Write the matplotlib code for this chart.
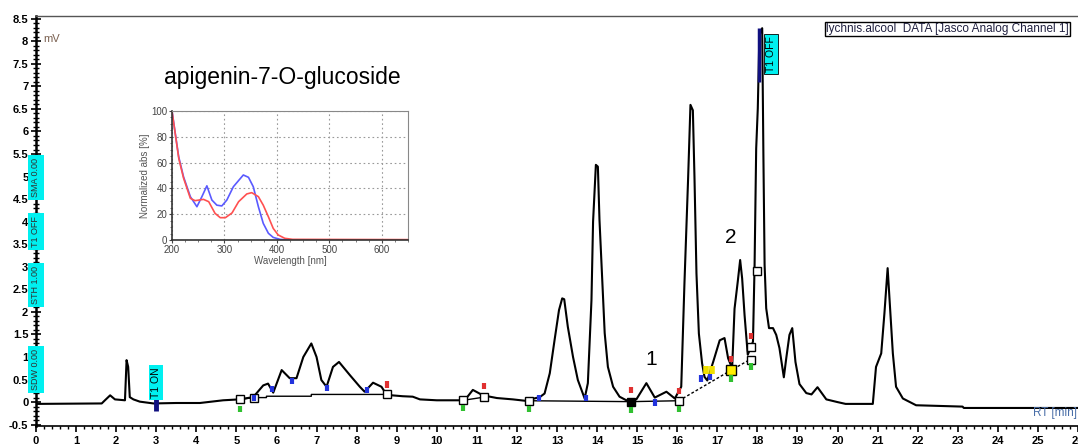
import matplotlib
matplotlib.use("Agg")
import matplotlib.pyplot as plt
import numpy as np
from matplotlib.ticker import MultipleLocator

plt.rcParams['font.family'] = ['Liberation Sans', 'DejaVu Sans']

# ---------------- chromatogram (RT in min, signal in mV) ----------------
rt_min = [0.0, 1.64, 1.72, 1.85, 1.97, 2.22, 2.26, 2.30, 2.34, 2.43, 2.59, 2.93, 3.5, 4.09,
          4.67, 5.07, 5.42, 5.67, 5.79, 5.92, 6.13, 6.33, 6.5, 6.67, 6.87, 7.0, 7.12, 7.25,
          7.41, 7.56, 7.83, 8.08, 8.2, 8.41, 8.62, 8.75, 9.15, 9.4, 9.58, 10.0, 10.57, 10.75,
          10.9, 11.15, 11.5, 11.9, 12.2, 12.57, 12.69, 12.82, 12.94, 13.05, 13.13, 13.18,
          13.27, 13.40, 13.52, 13.69, 13.77, 13.86, 13.90, 13.97, 14.02, 14.06, 14.12, 14.19,
          14.27, 14.40, 14.56, 14.73, 14.98, 15.23, 15.44, 15.73, 15.94, 16.10, 16.18, 16.27,
          16.33, 16.39, 16.43, 16.48, 16.54, 16.62, 16.68, 16.75, 16.9, 17.06, 17.18, 17.27,
          17.37, 17.43, 17.51, 17.57, 17.62, 17.68, 17.76, 17.89, 17.93, 17.97, 18.01, 18.05,
          18.12, 18.15, 18.18, 18.22, 18.29, 18.39, 18.47, 18.55, 18.66, 18.72, 18.80, 18.87,
          18.95, 19.05, 19.22, 19.35, 19.5, 19.72, 20.0, 20.2, 20.88, 20.96, 21.09, 21.17,
          21.25, 21.31, 21.38, 21.46, 21.63, 21.96, 23.12, 23.15, 26.0]
signal_mv = [-0.04, -0.03, 0.04, 0.15, 0.06, 0.04, 0.93, 0.78, 0.11, 0.06, 0.01, -0.03, -0.02, -0.02,
             0.04, 0.06, 0.11, 0.37, 0.41, 0.21, 0.71, 0.53, 0.53, 1.0, 1.30, 1.0, 0.49, 0.34,
             0.78, 0.89, 0.6, 0.34, 0.23, 0.43, 0.34, 0.16, 0.13, 0.12, 0.06, 0.04, 0.04, 0.1,
             0.27, 0.15, 0.09, 0.06, 0.03, 0.11, 0.19, 0.64, 1.38, 2.04, 2.30, 2.28,
             1.67, 1.0, 0.49, 0.08, 0.42, 2.26, 4.0, 5.26, 5.22, 4.04, 2.86, 1.53,
             0.78, 0.34, 0.12, 0.04, 0.06, 0.42, 0.1, 0.23, 0.08, 0.34, 2.63, 4.92,
             6.59, 6.47, 5.0, 2.85, 1.52, 0.86, 0.56, 0.48, 0.9, 1.37, 1.42, 0.97,
             0.75, 2.07, 2.67, 3.15, 2.74, 1.93, 1.05, 1.34, 3.04, 5.62, 6.51, 8.14,
             8.29, 5.48, 3.04, 2.08, 1.64, 1.64, 1.49, 1.2, 0.55, 0.97, 1.49, 1.64,
             0.89, 0.4, 0.2, 0.17, 0.33, 0.06, 0.0, -0.04, -0.04, 0.78, 1.08, 1.97,
             2.97, 2.11, 1.08, 0.34, 0.08, -0.07, -0.1, -0.13, -0.13]

# integration baseline (solid) and dashed baseline
base_rt = [5.07, 5.45, 5.75, 5.75, 6.87, 6.87, 8.75]
base_mv = [0.06, 0.10, 0.10, 0.13, 0.13, 0.17, 0.17]
base2_rt = [10.66, 11.18]
base2_mv = [0.04, 0.11]
base3_rt = [12.29, 14.84, 16.04]
base3_mv = [0.03, 0.01, 0.03]
dash_rt = [16.04, 17.35, 17.83]
dash_mv = [0.03, 0.71, 0.95]

# peak start/end boxes
box_rt = [5.10, 5.45, 8.75, 10.66, 11.18, 12.29, 16.04, 17.83, 17.83, 17.99]
box_mv = [0.06, 0.10, 0.17, 0.04, 0.11, 0.03, 0.03, 0.93, 1.23, 2.90]

# small colored event marks
blue_rt = [5.45, 5.88, 6.40, 7.25, 8.25, 12.55, 13.72, 15.45, 16.60, 16.82]
blue_mv = [0.02, 0.22, 0.40, 0.25, 0.20, 0.02, 0.02, -0.08, 0.45, 0.48]
red_rt = [8.75, 11.18, 14.84, 16.04, 17.35, 17.85]
red_mv = [0.32, 0.28, 0.20, 0.18, 0.88, 1.40]
green_rt = [5.10, 10.66, 12.29, 14.84, 16.04, 17.35, 17.85]
green_mv = [-0.22, -0.20, -0.22, -0.24, -0.22, 0.45, 0.72]

x_ticks = list(range(0, 27))
y_ticks = [-0.5, 0, 0.5, 1, 1.5, 2, 2.5, 3, 3.5, 4, 4.5, 5, 5.5, 6, 6.5, 7, 7.5, 8, 8.5]
y_tick_labels = ['-0.5', '0', '0.5', '1', '1.5', '2', '2.5', '3', '3.5', '4', '4.5', '5',
                 '5.5', '6', '6.5', '7', '7.5', '8', '8.5']

# ---------------- UV spectrum inset ----------------
wl_blue = [200, 212.7, 222, 235, 247.5, 257, 266.5, 276, 285.5, 295, 304.6, 317, 336, 345.8,
           355, 364.7, 374, 383.8, 393, 406, 420, 650]
abs_blue = [100, 64.6, 49, 33.6, 25.8, 33.6, 42, 31, 27, 26.4, 31, 41.3, 50.4, 48.6,
            41.3, 25.8, 12.9, 5.2, 2.0, 0.5, 0.0, 0.0]
wl_red = [200, 213, 222, 235, 244, 260, 270, 282, 292, 301.8, 314.5, 327, 342.6, 352,
          364.7, 374, 383.8, 393, 402.5, 415, 430, 650]
abs_red = [100, 63, 48, 32.3, 30.5, 31.5, 29.7, 20.7, 17.3, 17.3, 21, 29.7, 35.7, 36.7,
           33.6, 27, 18, 9, 3.9, 1.3, 0.5, 0.3]

W, H = 1078, 444
fig = plt.figure(figsize=(W / 100, H / 100), dpi=100)
fig.patch.set_facecolor('white')

ax = fig.add_axes([36 / W, (H - 426) / H, (W - 36) / W, (426 - 16) / H])
ax.plot(rt_min, signal_mv, color='black', lw=1.5, zorder=3)
ax.plot(base_rt, base_mv, color='black', lw=1.0, zorder=2)
ax.plot(base2_rt, base2_mv, color='black', lw=1.0, zorder=2)
ax.plot(base3_rt, base3_mv, color='black', lw=1.0, zorder=2)
ax.plot(dash_rt, dash_mv, color='black', lw=1.0, ls=(0, (2, 1.5)), zorder=2)
ax.plot(box_rt, box_mv, ls='none', marker='s', ms=6, mfc='white', mec='black', mew=1.0, zorder=4)
ax.plot([14.84], [0.01], ls='none', marker='s', ms=6, mfc='black', mec='black', zorder=4)
ax.plot([17.35], [0.71], ls='none', marker='s', ms=7, mfc='#ffee00', mec='black', mew=1.0, zorder=4)
ax.vlines(blue_rt, blue_mv, [v + 0.14 for v in blue_mv], color='#2233dd', lw=3, zorder=4)
ax.vlines(red_rt, red_mv, [v + 0.14 for v in red_mv], color='#e03030', lw=3, zorder=4)
ax.vlines(green_rt, green_mv, [v + 0.14 for v in green_mv], color='#30c030', lw=3, zorder=4)
ax.vlines([16.72, 16.86], [0.62, 0.62], [0.8, 0.8], color='#f0e000', lw=4, zorder=4)

# T1 ON / T1 OFF events
ax.vlines([3.0], [-0.2], [0.1], color='#101080', lw=3.5, zorder=4)
ax.text(3.0, 0.1, 'T1 ON', rotation=90, ha='center', va='bottom', fontsize=7.5,
        bbox=dict(facecolor='#00f0f0', edgecolor='none', pad=1.5), zorder=5)
ax.vlines([18.04], [7.1], [8.3], color='#101080', lw=2.5, zorder=4)
ax.text(18.33, 8.12, 'T1 OFF', rotation=90, ha='center', va='top', fontsize=7.5,
        bbox=dict(facecolor='#00f0f0', edgecolor='black', lw=0.6, pad=1.5), zorder=5)

# events on left axis
tr = ax.get_yaxis_transform()
for lbl, yv in [('SMA 0.00', 4.98), ('T1 OFF', 3.79), ('STH 1.00', 2.59), ('SDW 0.00', 0.73)]:
    ax.text(0.0, yv, lbl, transform=tr, rotation=90, ha='center', va='center', fontsize=6.5,
            color='#303030', bbox=dict(facecolor='#00f0f0', edgecolor='none', pad=2.2),
            clip_on=False, zorder=6)

ax.set_xlim(0, 26)
ax.set_ylim(-0.53, 8.56)
ax.set_xticks(x_ticks)
ax.set_xticklabels([str(t) for t in x_ticks], fontsize=8, fontweight='bold')
ax.set_yticks(y_ticks)
ax.set_yticklabels(y_tick_labels, fontsize=8, fontweight='bold')
ax.xaxis.set_minor_locator(MultipleLocator(0.2))
ax.yaxis.set_minor_locator(MultipleLocator(0.1))
ax.tick_params(axis='x', which='major', direction='out', length=4, width=1.2, pad=3)
ax.tick_params(axis='x', which='minor', direction='out', length=2, width=1)
ax.tick_params(axis='y', which='major', direction='inout', length=7, width=1.2, pad=2)
ax.tick_params(axis='y', which='minor', direction='inout', length=4, width=1)
ax.spines['right'].set_visible(False)
ax.spines['top'].set_color('#555555')
ax.spines['top'].set_linewidth(1.0)
ax.spines['left'].set_linewidth(1.8)
ax.spines['bottom'].set_linewidth(1.2)

# annotations
ax.text(0.18, 8.05, 'mV', fontsize=8, color='#7a6050', ha='left', va='center')
ax.text(25.98, -0.25, 'RT [min]', fontsize=8.5, color='#4a6fa8', ha='right', va='center')
ax.text(3.2, 7.2, 'apigenin-7-O-glucoside', fontsize=16.5, color='black', ha='left', va='center')
ax.text(15.35, 0.95, '1', fontsize=15, ha='center', va='center')
ax.text(17.33, 3.65, '2', fontsize=15, ha='center', va='center')
fig.text(826 / W, 1 - 29 / H, 'lychnis.alcool  DATA [Jasco Analog Channel 1]', fontsize=8.5,
         color='#202040', ha='left', va='center',
         bbox=dict(facecolor='white', edgecolor='black', lw=1.0, pad=1.0))

# inset
ins = fig.add_axes([172 / W, 1 - 240 / H, (408 - 172) / W, (240 - 111) / H])
ins.plot(wl_blue, abs_blue, color='#5a5aff', lw=1.2)
ins.plot(wl_red, abs_red, color='#ff5050', lw=1.2)
ins.set_xlim(200, 650)
ins.set_ylim(0, 100)
ins.set_xticks([200, 300, 400, 500, 600])
ins.set_yticks([0, 20, 40, 60, 80, 100])
ins.grid(True, ls=(0, (1.5, 2.5)), color='#999999', lw=0.8)
ins.tick_params(labelsize=7, colors='#444444', length=2, pad=1.5)
ins.xaxis.set_minor_locator(MultipleLocator(25))
ins.yaxis.set_minor_locator(MultipleLocator(5))
ins.tick_params(which='minor', length=1.5, colors='#666666')
ins.set_xlabel('Wavelength [nm]', fontsize=7, color='#555555', labelpad=1)
ins.set_ylabel('Normalized abs [%]', fontsize=7, color='#555555', labelpad=1)
for s in ['left', 'bottom']:
    ins.spines[s].set_color('#333333')
    ins.spines[s].set_linewidth(1.2)
for s in ['top', 'right']:
    ins.spines[s].set_color('#888888')
    ins.spines[s].set_linewidth(0.8)

fig.savefig('out.png', dpi=100, facecolor='white')
